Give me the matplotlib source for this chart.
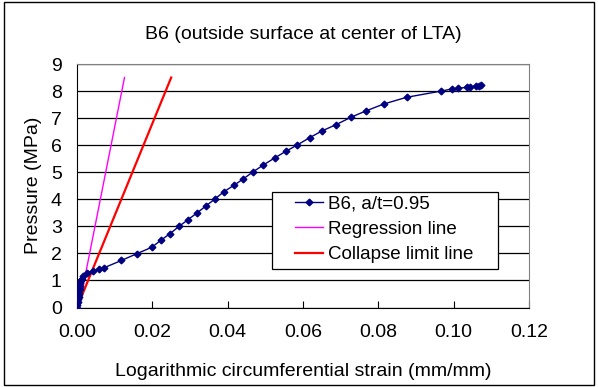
"""Pressure vs logarithmic circumferential strain for specimen B6."""

import matplotlib

matplotlib.use("Agg")
import matplotlib.pyplot as plt
from matplotlib.patches import Rectangle

plt.rcParams["font.family"] = ["Liberation Sans", "DejaVu Sans"]

# measured points, B6 a/t=0.95
strain = [
    0.0, 0.0001, 0.0002, 0.0003, 0.0004, 0.0005, 0.0006, 0.0007, 0.0008, 0.0009,
    0.0011, 0.0013, 0.0017, 0.0026, 0.0043, 0.0059, 0.0072, 0.0118, 0.0159, 0.0199,
    0.0222, 0.0247, 0.0271, 0.0295, 0.0318, 0.0342, 0.0366, 0.0390, 0.0417, 0.0441,
    0.0468, 0.0495, 0.0525, 0.0554, 0.0585, 0.0618, 0.0651, 0.0688, 0.0727, 0.0766,
    0.0814, 0.0875, 0.0967, 0.0996, 0.1012, 0.1035, 0.1043, 0.1059, 0.1066, 0.1072,
]
pressure = [
    0.0, 0.1, 0.2, 0.3, 0.4, 0.5, 0.6, 0.7, 0.8, 0.9,
    1.0, 1.07, 1.18, 1.28, 1.34, 1.44, 1.47, 1.74, 1.99, 2.23,
    2.48, 2.73, 3.0, 3.25, 3.49, 3.75, 4.01, 4.28, 4.52, 4.75,
    5.02, 5.27, 5.53, 5.77, 6.01, 6.28, 6.53, 6.76, 7.03, 7.26,
    7.52, 7.77, 8.0, 8.08, 8.1, 8.14, 8.14, 8.18, 8.19, 8.21,
]

regression_x = [0.0005, 0.0126]
regression_y = [0.0, 8.5]
collapse_x = [0.0, 0.025]
collapse_y = [0.0, 8.5]

x_ticks = [0.0, 0.02, 0.04, 0.06, 0.08, 0.10, 0.12]
y_ticks = list(range(10))

fig = plt.figure(figsize=(5.98, 3.87), dpi=100)
ax = fig.add_axes([0.1288, 0.2054, 0.7558, 0.6292])

ax.plot(strain, pressure, color="#000080", lw=1.0, marker="D", ms=3.4,
        label="B6, a/t=0.95", zorder=4)
ax.plot(regression_x, regression_y, color="#ff00ff", lw=1.0, label="Regression line", zorder=3)
ax.plot(collapse_x, collapse_y, color="#ff0000", lw=1.6, label="Collapse limit line", zorder=3)

ax.set_xlim(0, 0.12)
ax.set_ylim(0, 9)
ax.set_xticks(x_ticks)
ax.set_xticklabels([f"{t:.2f}" for t in x_ticks])
ax.set_yticks(y_ticks)
ax.yaxis.grid(True, color="black", lw=0.9)
ax.set_axisbelow(True)
ax.tick_params(axis="x", direction="in", length=5, labelsize=14, pad=12)
ax.tick_params(axis="y", length=0, labelsize=14, pad=11)
for side in ("top", "right"):
    ax.spines[side].set_color("#808080")
for side in ("left", "bottom"):
    ax.spines[side].set_color("black")

ax.set_xlabel("Logarithmic circumferential strain (mm/mm)", fontsize=14, labelpad=16)
ax.set_ylabel("Pressure (MPa)", fontsize=14, labelpad=6)
ax.set_title("B6 (outside surface at center of LTA)", fontsize=14, pad=18)

# legend box drawn separately so the entries sit centred in it
ax.add_patch(Rectangle((0.431, 0.158), 0.5, 0.316, transform=ax.transAxes,
                       facecolor="white", edgecolor="black", lw=0.9, zorder=5))
leg = ax.legend(loc="upper left", bbox_to_anchor=(0.483, 0.462), fontsize=13.5,
                frameon=False, borderaxespad=0, borderpad=0, handlelength=1.45,
                handletextpad=0.3, labelspacing=0.45)
leg.set_zorder(6)

fig.patches.append(Rectangle((0.006, 0.004), 0.987, 0.99, transform=fig.transFigure,
                             fill=False, edgecolor="black", lw=1.0))

fig.savefig("out.png", dpi=100)
